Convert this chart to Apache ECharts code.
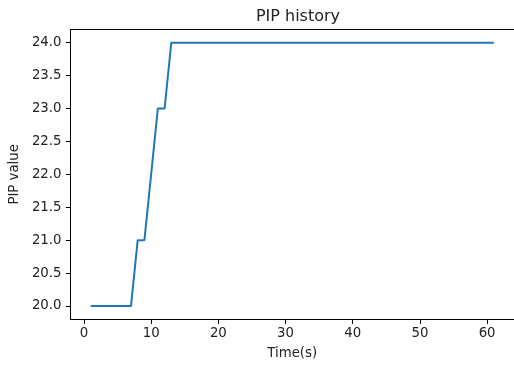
<!DOCTYPE html>
<html><head><meta charset="utf-8">
<script src="https://cdn.jsdelivr.net/npm/echarts@6/dist/echarts.min.js"></script>
<style>html,body{margin:0;padding:0;background:#fff}#c{width:514px;height:367px}</style>
</head><body><div id="c"></div>
<script>
const timeValues = [1,2,3,4,5,6,7,8,9,10,11,12,13,14,15,16,17,18,19,20,21,22,23,24,25,26,27,28,29,30,31,32,33,34,35,36,37,38,39,40,41,42,43,44,45,46,47,48,49,50,51,52,53,54,55,56,57,58,59,60,61];
const pipValues = [20,20,20,20,20,20,20,21,21,22,23,23,24,24,24,24,24,24,24,24,24,24,24,24,24,24,24,24,24,24,24,24,24,24,24,24,24,24,24,24,24,24,24,24,24,24,24,24,24,24,24,24,24,24,24,24,24,24,24,24,24];
const xTicks = [0,10,20,30,40,50,60];
const yTicks = [20,20.5,21,21.5,22,22.5,23,23.5,24];
const F = 'DejaVu Sans';
const TC = '#222';
const chart = echarts.init(document.getElementById('c'), null, {renderer:'canvas'});
chart.setOption({
  animation:false,
  backgroundColor:'#fff',
  title:{text:'PIP history', left:293, top:4, textAlign:'center',
    textStyle:{fontFamily:F,fontSize:16,fontWeight:'normal',color:TC}},
  grid:{left:69.5, top:29.5, width:447.7, height:289.7, show:false},
  xAxis:[{type:'value', min:-2, max:64,
    name:'Time(s)', nameLocation:'middle', nameGap:28,
    nameTextStyle:{fontFamily:F,fontSize:13.3,color:TC},
    axisLine:{show:true,onZero:false,lineStyle:{color:'#000',width:1}},
    axisTick:{show:true,length:4.7,lineStyle:{color:'#000'},customValues:xTicks},
    axisLabel:{fontFamily:F,fontSize:13.3,color:TC,margin:8,customValues:xTicks},
    splitLine:{show:false}},
   {type:'value', position:'top', min:-2, max:64,
    axisLine:{show:true,onZero:false,lineStyle:{color:'#000',width:1}},
    axisTick:{show:false}, axisLabel:{show:false}, splitLine:{show:false}}],
  yAxis:{type:'value', min:19.8, max:24.2,
    name:'PIP value', nameLocation:'middle', nameGap:44, nameRotate:90,
    nameTextStyle:{fontFamily:F,fontSize:13.3,color:TC},
    axisLine:{show:true,onZero:false,lineStyle:{color:'#000',width:1}},
    axisTick:{show:true,length:4.7,lineStyle:{color:'#000'},customValues:yTicks},
    axisLabel:{fontFamily:F,fontSize:13.3,color:TC,margin:9,customValues:yTicks,
      formatter:v=>Number(v).toFixed(1)},
    splitLine:{show:false}},
  series:[{type:'line', xAxisIndex:0, data:timeValues.map((t,i)=>[t,pipValues[i]]),
    showSymbol:false, lineStyle:{color:'#1f77b4',width:2}, itemStyle:{color:'#1f77b4'}}]
});
</script></body></html>
